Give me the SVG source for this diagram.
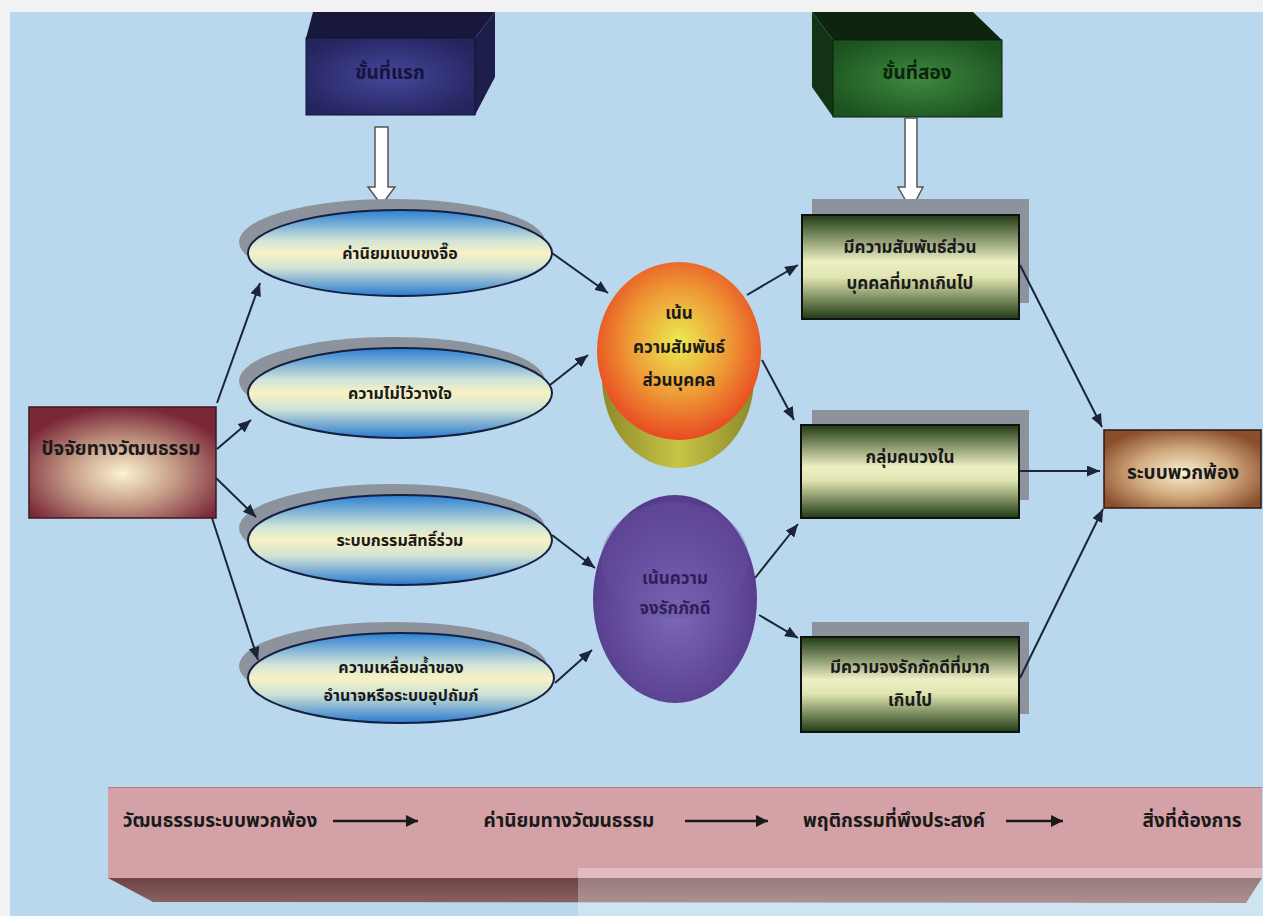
<svg xmlns="http://www.w3.org/2000/svg" width="1263" height="916" viewBox="0 0 1263 916">
<defs>
<style>
.t{font-family:"Noto Sans Thai","Tahoma","DejaVu Sans","Liberation Sans",sans-serif;font-weight:bold;fill:#1a1a1a;text-anchor:middle}
.e{stroke:#152040;stroke-width:2}
.sh{fill:#8c939c}
.conn line{stroke:#1a2638;stroke-width:2;marker-end:url(#ah)}
.bar line{stroke:#1a1a1a;stroke-width:2.5;marker-end:url(#ah2)}
.gr{stroke:#111;stroke-width:2}
.hollow{fill:#ffffff;stroke:#555;stroke-width:1.5}
</style>
<marker id="ah" markerUnits="userSpaceOnUse" markerWidth="13" markerHeight="11" refX="13" refY="5.5" orient="auto"><path d="M0,0 L13,5.5 L0,11 z" fill="#1a2638"/></marker>
<marker id="ah2" markerUnits="userSpaceOnUse" markerWidth="12" markerHeight="12" refX="12" refY="6" orient="auto"><path d="M0,0 L12,6 L0,12 z" fill="#1a1a1a"/></marker>
<linearGradient id="ellG" x1="0" y1="0" x2="0" y2="1">
<stop offset="0" stop-color="#2a7fd4"/><stop offset="0.35" stop-color="#cfe3d8"/><stop offset="0.5" stop-color="#f8f2c4"/><stop offset="0.68" stop-color="#cfe2d6"/><stop offset="1" stop-color="#2a7ad0"/>
</linearGradient>
<linearGradient id="recG" x1="0" y1="0" x2="0" y2="1">
<stop offset="0" stop-color="#1f3a14"/><stop offset="0.45" stop-color="#eef0c4"/><stop offset="0.6" stop-color="#dfe4b0"/><stop offset="1" stop-color="#1f3a14"/>
</linearGradient>
<radialGradient id="leftG" cx="0.5" cy="0.6" r="0.6">
<stop offset="0" stop-color="#fbf3cf"/><stop offset="0.45" stop-color="#c8a08a"/><stop offset="1" stop-color="#7a2838"/>
</radialGradient>
<radialGradient id="rightG" cx="0.5" cy="0.55" r="0.6">
<stop offset="0" stop-color="#f7efd0"/><stop offset="0.5" stop-color="#d2ab80"/><stop offset="1" stop-color="#8a4e2c"/>
</radialGradient>
<radialGradient id="orG" cx="0.5" cy="0.45" r="0.55">
<stop offset="0" stop-color="#ecec50"/><stop offset="0.55" stop-color="#ee9a36"/><stop offset="1" stop-color="#e84a22"/>
</radialGradient>
<linearGradient id="olG" x1="0" y1="0" x2="1" y2="0">
<stop offset="0" stop-color="#8c8a28"/><stop offset="0.5" stop-color="#c8c448"/><stop offset="1" stop-color="#8c8a28"/>
</linearGradient>
<radialGradient id="puG" cx="0.5" cy="0.55" r="0.55">
<stop offset="0" stop-color="#7c6ab8"/><stop offset="1" stop-color="#553a8a"/>
</radialGradient>
<radialGradient id="navyF" cx="0.5" cy="0.5" r="0.6">
<stop offset="0" stop-color="#46469a"/><stop offset="1" stop-color="#24245e"/>
</radialGradient>
<radialGradient id="greenF" cx="0.5" cy="0.5" r="0.6">
<stop offset="0" stop-color="#3e8a3e"/><stop offset="1" stop-color="#1c5220"/>
</radialGradient>
<linearGradient id="barB" x1="0" y1="0" x2="0" y2="1">
<stop offset="0" stop-color="#6c4444"/><stop offset="1" stop-color="#8a6262"/>
</linearGradient>
</defs>

<rect x="0" y="0" width="1263" height="916" fill="#f2f2f2"/>
<rect x="10" y="12" width="1253" height="904" fill="#b9d8ee"/>

<g id="box-step1">
<polygon points="306,38 313,12 495,12 475,38" fill="#18183c"/>
<polygon points="475,38 495,12 495,77 475,115" fill="#1e1e4c"/>
<rect x="306" y="38" width="169" height="77" fill="url(#navyF)" stroke="#101030" stroke-width="1"/>
<text class="t" x="390" y="79" font-size="19" style="fill:#14143e">ขั้นที่แรก</text>
</g>

<g id="box-step2">
<polygon points="812,12 973,12 1002,40 833,40" fill="#0e2410"/>
<polygon points="812,12 833,40 833,117 812,87" fill="#123414"/>
<rect x="833" y="40" width="169" height="77" fill="url(#greenF)" stroke="#0a200a" stroke-width="1"/>
<text class="t" x="917" y="79" font-size="19" style="fill:#0a240c">ขั้นที่สอง</text>
</g>

<g id="hollow-arrows">
<polygon class="hollow" points="375,127 388,127 388,187 395,187 381.5,205 368,187 375,187"/>
<polygon class="hollow" points="905,118 917,118 917,187 923,187 911,210 898,187 905,187"/>
</g>

<g id="factor">
<rect x="29" y="407" width="187" height="111" fill="url(#leftG)" stroke="#3a1a20" stroke-width="1.5"/>
<text class="t" x="121" y="455" font-size="19">ปัจจัยทางวัฒนธรรม</text>
</g>

<g id="ell1">
<ellipse class="sh" cx="392" cy="242" rx="153" ry="43"/>
<ellipse class="e" cx="400" cy="253" rx="152" ry="43" fill="url(#ellG)"/>
<text class="t" x="400" y="259" font-size="16">ค่านิยมแบบขงจื๊อ</text>
</g>
<g id="ell2">
<ellipse class="sh" cx="392" cy="381" rx="153" ry="44"/>
<ellipse class="e" cx="400" cy="393" rx="152" ry="45" fill="url(#ellG)"/>
<text class="t" x="400" y="399" font-size="16">ความไม่ไว้วางใจ</text>
</g>
<g id="ell3">
<ellipse class="sh" cx="392" cy="528" rx="153" ry="44"/>
<ellipse class="e" cx="400" cy="540" rx="152" ry="45" fill="url(#ellG)"/>
<text class="t" x="400" y="546" font-size="16">ระบบกรรมสิทธิ์ร่วม</text>
</g>
<g id="ell4">
<ellipse class="sh" cx="393" cy="666" rx="154" ry="44"/>
<ellipse class="e" cx="401" cy="678" rx="153" ry="45" fill="url(#ellG)"/>
<text class="t" x="401" y="673" font-size="16">ความเหลื่อมล้ำของ</text>
<text class="t" x="401" y="701" font-size="16">อำนาจหรือระบบอุปถัมภ์</text>
</g>

<g id="personal">
<ellipse cx="678" cy="378" rx="76" ry="90" fill="url(#olG)"/>
<ellipse cx="679" cy="351" rx="82" ry="89" fill="url(#orG)"/>
<text class="t" x="679" y="319" font-size="17">เน้น</text>
<text class="t" x="679" y="353" font-size="17">ความสัมพันธ์</text>
<text class="t" x="679" y="386" font-size="17">ส่วนบุคคล</text>
</g>

<g id="loyalty">
<ellipse cx="675" cy="599" rx="82" ry="104" fill="url(#puG)"/>
<ellipse cx="675" cy="560" rx="74" ry="58" fill="#6a54a4" opacity="0.35"/>
<text class="t" x="675" y="584" font-size="17" style="fill:#2e1e5a">เน้นความ</text>
<text class="t" x="675" y="614" font-size="17" style="fill:#2e1e5a">จงรักภักดี</text>
</g>

<g id="rectA">
<rect class="sh" x="812" y="199" width="217" height="104"/>
<rect class="gr" x="802" y="215" width="217" height="104" fill="url(#recG)"/>
<text class="t" x="910" y="253" font-size="17">มีความสัมพันธ์ส่วน</text>
<text class="t" x="910" y="289" font-size="17">บุคคลที่มากเกินไป</text>
</g>
<g id="rectB">
<rect class="sh" x="812" y="410" width="217" height="90"/>
<rect class="gr" x="801" y="425" width="218" height="93" fill="url(#recG)"/>
<text class="t" x="910" y="463" font-size="17">กลุ่มคนวงใน</text>
</g>
<g id="rectC">
<rect class="sh" x="812" y="622" width="217" height="92"/>
<rect class="gr" x="801" y="637" width="218" height="95" fill="url(#recG)"/>
<text class="t" x="910" y="673" font-size="17">มีความจงรักภักดีที่มาก</text>
<text class="t" x="910" y="706" font-size="17">เกินไป</text>
</g>

<g id="result">
<rect x="1104" y="430" width="157" height="78" fill="url(#rightG)" stroke="#2a1810" stroke-width="1.5"/>
<text class="t" x="1183" y="479" font-size="19">ระบบพวกพ้อง</text>
</g>

<g id="connectors" class="conn">
<line x1="217" y1="403" x2="260" y2="283"/>
<line x1="217" y1="449" x2="251" y2="420"/>
<line x1="216" y1="478" x2="256" y2="517"/>
<line x1="212" y1="518" x2="258" y2="660"/>
<line x1="552" y1="253" x2="608" y2="293"/>
<line x1="550" y1="385" x2="588" y2="355"/>
<line x1="552" y1="535" x2="595" y2="568"/>
<line x1="555" y1="683" x2="592" y2="650"/>
<line x1="747" y1="295" x2="798" y2="265"/>
<line x1="762" y1="360" x2="794" y2="420"/>
<line x1="755" y1="578" x2="798" y2="524"/>
<line x1="759" y1="615" x2="798" y2="638"/>
<line x1="1020" y1="265" x2="1102" y2="427"/>
<line x1="1020" y1="471" x2="1100" y2="471"/>
<line x1="1020" y1="678" x2="1103" y2="509"/>
</g>

<g id="bottom-bar">
<polygon points="108,878 1262,878 1246,903 153,902" fill="url(#barB)"/>
<rect x="108" y="787" width="1154" height="91" fill="#d4a1a6"/>
<line x1="108" y1="787.5" x2="1262" y2="787.5" stroke="#b07f86" stroke-width="1"/>
<text class="t" x="220" y="827" font-size="19">วัฒนธรรมระบบพวกพ้อง</text>
<text class="t" x="569" y="827" font-size="19">ค่านิยมทางวัฒนธรรม</text>
<text class="t" x="894" y="827" font-size="19">พฤติกรรมที่พึงประสงค์</text>
<text class="t" x="1192" y="827" font-size="19">สิ่งที่ต้องการ</text>
<g class="bar">
<line x1="333" y1="821" x2="418" y2="821"/>
<line x1="685" y1="821" x2="768" y2="821"/>
<line x1="1006" y1="821" x2="1063" y2="821"/>
</g>
</g>

<rect x="578" y="868" width="685" height="48" fill="#ffffff" opacity="0.3"/>
</svg>
